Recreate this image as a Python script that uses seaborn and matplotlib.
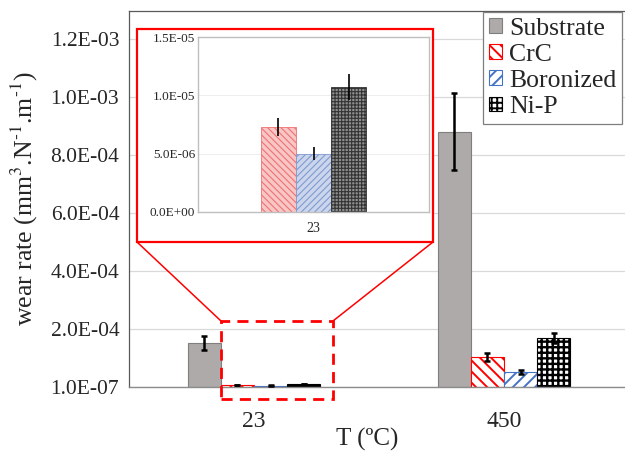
import numpy as np
import pandas as pd
import matplotlib
matplotlib.use("Agg")
import matplotlib.pyplot as plt
import seaborn as sns
from matplotlib.patches import Rectangle, Patch
from matplotlib.lines import Line2D

# ---------------- data ----------------
temperatures = ["23", "450"]
materials = ["Substrate", "CrC", "Boronized", "Ni-P"]
wear_23 = [1.51e-4, 7.3e-6, 5.0e-6, 1.07e-5]
wear_450 = [8.80e-4, 1.03e-4, 5.2e-5, 1.69e-4]
err_23 = [2.5e-5, 7.5e-7, 5.7e-7, 1.1e-6]
err_450 = [1.33e-4, 1.4e-5, 6.0e-6, 1.7e-5]
y_ticks = [1e-7, 2e-4, 4e-4, 6e-4, 8e-4, 1.0e-3, 1.2e-3]
y_tick_labels = ["1.0E-07", "2.0E-04", "4.0E-04", "6.0E-04", "8.0E-04", "1.0E-03", "1.2E-03"]
inset_ticks = [0, 5e-6, 1e-5, 1.5e-5]
inset_tick_labels = ["0.0E+00", "5.0E-06", "1.0E-05", "1.5E-05"]

# ---------------- style ----------------
sns.set_style("white")
plt.rcParams["font.family"] = ["Liberation Serif", "DejaVu Serif"]
plt.rcParams["mathtext.fontset"] = "stix"
plt.rcParams["hatch.linewidth"] = 1.4

fill_colors = {"Substrate": "#aeaaaa", "CrC": "white", "Boronized": "white", "Ni-P": "white"}
edge_colors = {"Substrate": "#7f7f7f", "CrC": "#ff0000", "Boronized": "#4472c4", "Ni-P": "#000000"}
hatches_main = {"Substrate": None, "CrC": "\\\\\\", "Boronized": "///", "Ni-P": "+++"}
inset_edge = {"CrC": "#ee7272", "Boronized": "#7f9bd0", "Ni-P": "#333333"}
inset_fill = {"CrC": "#f9c6c6", "Boronized": "#cbd6ec", "Ni-P": "#8f8f8f"}
hatches_inset = {"CrC": "\\\\\\\\\\", "Boronized": "/////", "Ni-P": "+++++"}

W, H = 625, 451
fig = plt.figure(figsize=(W / 100, H / 100), dpi=100)


def fx(px):
    return px / W


def fy(py):
    return 1 - py / H


def set_hlw(p, lw):
    if hasattr(p, "set_hatch_linewidth"):
        p.set_hatch_linewidth(lw)


# ---------------- main axes ----------------
ax = fig.add_axes([fx(129), fy(387), 500 / W, (387 - 11) / H])
df = pd.DataFrame({
    "T": np.repeat(temperatures, len(materials)),
    "Material": materials * len(temperatures),
    "wear": wear_23 + wear_450,
    "err": err_23 + err_450,
})
sns.barplot(data=df, x="T", y="wear", hue="Material", order=temperatures,
            hue_order=materials, width=0.53, errorbar=None, legend=False,
            ax=ax, zorder=2)

for mat, cont in zip(materials, ax.containers):
    for p in cont.patches:
        p.set_facecolor(fill_colors[mat])
        p.set_edgecolor(edge_colors[mat])
        p.set_linewidth(0.8)
        if hatches_main[mat]:
            p.set_hatch(hatches_main[mat])
            set_hlw(p, 1.4 if mat != "Ni-P" else 1.7)
    sub = df[df["Material"] == mat]
    xs = [p.get_x() + p.get_width() / 2 for p in cont.patches]
    ax.errorbar(xs, sub["wear"].values, yerr=sub["err"].values, fmt="none",
                ecolor="black", elinewidth=1.8, capsize=2.5, capthick=1.8, zorder=3)

ax.set_xlim(-0.5, 1.5)
ax.set_ylim(0, 1.296e-3)
ax.set_yticks(y_ticks)
ax.set_yticklabels(y_tick_labels, fontsize=15.5)
ax.tick_params(axis="y", length=0, pad=7)
ax.tick_params(axis="x", length=0, pad=17, labelsize=17)
ax.yaxis.grid(True, color="#d9d9d9", linewidth=0.9, zorder=0)
ax.set_axisbelow(True)
for s in ["left", "top"]:
    ax.spines[s].set_color("#595959")
    ax.spines[s].set_linewidth(0.9)
ax.spines["bottom"].set_color("#8c8c8c")
ax.spines["bottom"].set_linewidth(1.0)
ax.spines["right"].set_visible(False)

ax.set_xlabel("T (ºC)", fontsize=18)
ax.xaxis.set_label_coords((367 - 129) / 500, -0.108)
ax.set_ylabel(r"wear rate (mm$^{3}$.N$^{\text{-}1}$.m$^{\text{-}1}$)", fontsize=18.5)
ax.yaxis.set_label_coords(-0.178, 0.5)

handles = [Patch(facecolor=fill_colors[m], edgecolor=edge_colors[m],
                 hatch=hatches_main[m], linewidth=0.8, label=m) for m in materials]
leg = ax.legend(handles=handles, loc="upper left",
                bbox_to_anchor=(fx(483), fy(12)), bbox_transform=fig.transFigure,
                fontsize=18.5, frameon=True, fancybox=False, framealpha=1,
                edgecolor="#7f7f7f", borderpad=0.22, labelspacing=0.16,
                handlelength=0.5, handleheight=0.5, handletextpad=0.3,
                borderaxespad=0)
leg.get_frame().set_linewidth(0.9)

# ---------------- zoom decorations ----------------
red = "#ff0000"
frame = Rectangle((fx(137), fy(242)), fx(433) - fx(137), fy(29) - fy(242),
                  transform=fig.transFigure, facecolor="white", edgecolor=red,
                  linewidth=1.6, zorder=1)
fig.add_artist(frame)
dashed = Rectangle((fx(221), fy(399)), fx(333) - fx(221), fy(321) - fy(399),
                   transform=fig.transFigure, facecolor="none", edgecolor=red,
                   linewidth=2.0, linestyle=(0, (4, 2.6)), zorder=4)
fig.add_artist(dashed)
fig.add_artist(Line2D([fx(137), fx(221)], [fy(242), fy(321)], transform=fig.transFigure,
                      color=red, linewidth=1.1, zorder=4))
fig.add_artist(Line2D([fx(433), fx(333)], [fy(242), fy(321)], transform=fig.transFigure,
                      color=red, linewidth=1.1, zorder=4))

# ---------------- inset ----------------
axin = fig.add_axes([fx(198), fy(212), (429 - 198) / W, (212 - 37) / H])
axin.set_zorder(5)
inset_mats = materials[1:]
dfi = df[(df["T"] == "23") & (df["Material"].isin(inset_mats))]
sns.barplot(data=dfi, x="T", y="wear", hue="Material", order=["23"],
            hue_order=inset_mats, width=0.455, errorbar=None, legend=False,
            ax=axin, zorder=2)
for mat, cont in zip(inset_mats, axin.containers):
    for p in cont.patches:
        p.set_facecolor(inset_fill[mat])
        p.set_edgecolor(inset_edge[mat])
        p.set_linewidth(0.6)
        p.set_hatch(hatches_inset[mat])
        set_hlw(p, 0.8)
    sub = dfi[dfi["Material"] == mat]
    xs = [p.get_x() + p.get_width() / 2 for p in cont.patches]
    axin.errorbar(xs, sub["wear"].values, yerr=sub["err"].values, fmt="none",
                  ecolor="black", elinewidth=1.2, capsize=0, zorder=3)
axin.set_xlim(-0.5, 0.5)
axin.set_ylim(0, 1.5e-5)
axin.set_yticks(inset_ticks)
axin.set_yticklabels(inset_tick_labels, fontsize=9.5)
axin.tick_params(axis="y", length=0, pad=2)
axin.tick_params(axis="x", length=0, pad=7, labelsize=10)
axin.set_xlabel("")
axin.set_ylabel("")
axin.yaxis.grid(True, color="#eeeeee", linewidth=0.8)
axin.set_axisbelow(True)
for s in axin.spines.values():
    s.set_color("#bfbfbf")
    s.set_linewidth(1.0)

fig.savefig("out.png", dpi=100)
